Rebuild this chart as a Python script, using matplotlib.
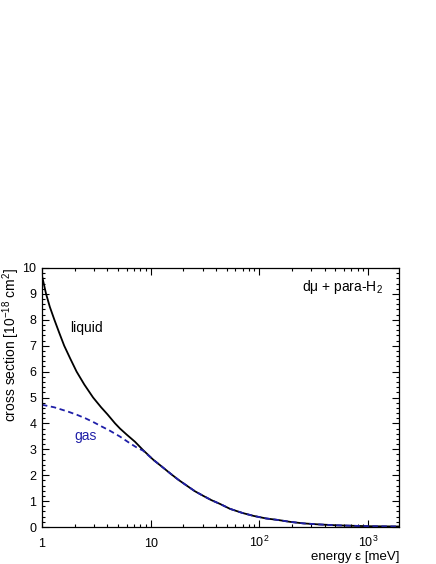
import numpy as np
import matplotlib
matplotlib.use("Agg")
import matplotlib.pyplot as plt
from matplotlib.ticker import FixedLocator, FuncFormatter, MultipleLocator, LogLocator, NullFormatter

plt.rcParams['font.family'] = ['Liberation Sans', 'DejaVu Sans']
plt.rcParams['mathtext.fontset'] = 'custom'
plt.rcParams['mathtext.rm'] = 'Liberation Sans'
plt.rcParams['mathtext.it'] = 'Liberation Sans:italic'
plt.rcParams['font.size'] = 10

# values
energy_liquid = [1.0, 1.09, 1.18, 1.30, 1.44, 1.60, 1.82, 2.08, 2.45, 2.95, 3.5, 4.0,
                 4.7, 5.22, 6.0, 7.17, 8.5, 10.6, 12.5, 15.1, 18.0, 21.4, 25.5, 30.5,
                 36.0, 43.4, 53.7, 70.0, 88.0, 115.0, 149.0, 190.0, 253.0, 350.0, 514.0,
                 750.0, 1040.0, 1400.0, 1900.0]
sigma_liquid = [9.70, 9.00, 8.50, 8.00, 7.50, 7.00, 6.50, 6.00, 5.50, 5.00, 4.62, 4.35,
                4.00, 3.80, 3.57, 3.29, 2.97, 2.59, 2.35, 2.07, 1.82, 1.60, 1.38, 1.20,
                1.04, 0.89, 0.70, 0.54, 0.43, 0.33, 0.27, 0.20, 0.14, 0.10, 0.065,
                0.045, 0.03, 0.025, 0.02]

energy_gas = [1.0, 1.3, 1.75, 2.1, 2.5, 3.0, 3.54, 4.2, 5.22, 6.45, 7.5, 8.5,
              10.6, 12.5, 15.1, 18.0, 21.4, 25.5, 30.5, 36.0, 43.4, 53.7, 70.0, 88.0,
              115.0, 149.0, 190.0, 253.0, 350.0, 514.0, 750.0, 1040.0, 1400.0, 1900.0]
sigma_gas = [4.72, 4.62, 4.45, 4.33, 4.20, 4.04, 3.88, 3.72, 3.49, 3.23, 3.06, 2.95,
             2.59, 2.35, 2.07, 1.82, 1.60, 1.38, 1.20, 1.04, 0.89, 0.70, 0.54, 0.43,
             0.33, 0.27, 0.20, 0.14, 0.10, 0.065, 0.045, 0.03, 0.025, 0.02]

x_ticks = [1, 10, 100, 1000]
x_ticklabels = ['1', '10', '$10^{2}$', '$10^{3}$']

gas_color = '#1f1fa8'

fig = plt.figure(figsize=(4.36, 5.64), dpi=100)
ax = fig.add_axes([42 / 436, 1 - 527 / 564, (399 - 42) / 436, (527 - 268) / 564])

ax.plot(energy_liquid, sigma_liquid, color='black', lw=1.3)
ax.plot(energy_gas, sigma_gas, color=gas_color, lw=1.3, linestyle=(0, (3, 2)))

ax.set_xscale('log')
ax.set_xlim(1, 1920)
ax.set_ylim(0, 10)

ax.xaxis.set_major_locator(FixedLocator(x_ticks))
ax.xaxis.set_major_formatter(FuncFormatter(lambda v, p: x_ticklabels[x_ticks.index(round(v))] if round(v) in x_ticks else ''))
ax.xaxis.set_minor_locator(LogLocator(base=10, subs=np.arange(2, 10)))
ax.xaxis.set_minor_formatter(NullFormatter())
ax.yaxis.set_major_locator(MultipleLocator(1))
ax.yaxis.set_minor_locator(MultipleLocator(0.2))

ax.tick_params(which='both', direction='in', top=True, right=True, width=0.8)
ax.tick_params(which='major', length=5, labelsize=9)
ax.tick_params(which='minor', length=2.5)
ax.tick_params(axis='y', pad=4)
ax.tick_params(axis='x', pad=14.5)
for s in ax.spines.values():
    s.set_linewidth(0.9)

fig.canvas.draw()
for lab in ax.get_xticklabels():
    lab.set_verticalalignment('baseline')

ax.set_xlabel('energy \u03b5 [meV]', loc='right', fontsize=9.5)
ax.xaxis.set_label_coords(1.0, -0.092)
ax.set_ylabel('cross section [10$^{-18}$ cm$^{2}$]', loc='top')
ax.yaxis.set_label_coords(-0.055, 1.0)

ax.text(0.955, 0.925, 'd\u03bc + para-H$_2$', transform=ax.transAxes, ha='right', va='center')
ax.text(0.078, 0.77, 'liquid', transform=ax.transAxes, ha='left', va='center')
ax.text(0.09, 0.352, 'gas', transform=ax.transAxes, ha='left', va='center', color=gas_color)

fig.savefig('out.png', dpi=100)
